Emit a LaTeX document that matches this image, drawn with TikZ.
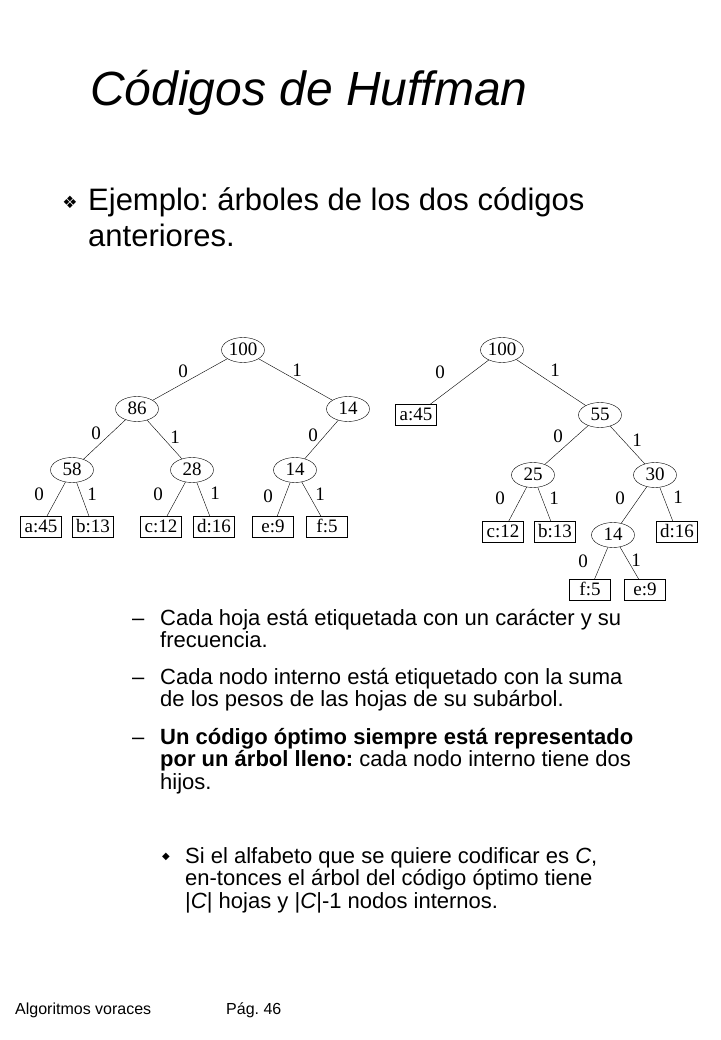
\documentclass[tikz,border=0pt]{standalone}
\usepackage{fontspec}
\setmainfont{Liberation Sans}
\newfontfamily\treefont{Liberation Serif}
\newfontfamily\symfont{DejaVu Sans}
\usetikzlibrary{shapes.geometric}
\newcommand{\mlines}[1]{\begin{tabular}[t]{@{}l@{}}#1\end{tabular}}
\tikzset{
 tf/.style={font=\treefont\fontsize{19}{19}\selectfont},
 inode/.style={ellipse,draw,inner sep=0pt,minimum width=43pt,minimum height=25pt,tf,text height=12pt,text depth=1pt},
 leaf/.style={rectangle,draw,inner sep=0pt,minimum width=41pt,minimum height=21pt,tf,text height=12pt,text depth=1pt},
 elab/.style={tf,inner sep=0pt},
 body/.style={anchor=base west,inner sep=0pt,font=\fontsize{22}{22}\selectfont},
}
\begin{document}
\frenchspacing
\begin{tikzpicture}[x=1pt,y=-1pt]
\useasboundingbox (0,0) rectangle (720,1040);
\node[anchor=base west,inner sep=0pt,font=\itshape\fontsize{48}{48}\selectfont] (title) at (90,106) {Códigos de Huffman};
\node[inner sep=0pt,font=\symfont\fontsize{17}{17}\selectfont] (b1) at (70,202) {❖};
\node[anchor=base west,inner sep=0pt,font=\fontsize{31}{36}\selectfont] (t1) at (88,211) {\mlines{Ejemplo: árboles de los dos códigos\\anteriores.}};
% left tree
\node[inode] (L100) at (243,350) {100};
\node[inode] (L86) at (137,409) {86};
\node[inode] (L14a) at (348,409) {14};
\node[inode] (L58) at (72,470) {58};
\node[inode] (L28) at (192,470) {28};
\node[inode] (L14b) at (295,470) {14};
\node[leaf] (La) at (41,527) {a:45};
\node[leaf] (Lb) at (93,527) {b:13};
\node[leaf] (Lc) at (161,527) {c:12};
\node[leaf] (Ld) at (214,527) {d:16};
\node[leaf] (Le) at (273,527) {e:9};
\node[leaf] (Lf) at (327,527) {f:5};
\draw (L100)--(L86); \draw (L100)--(L14a); \draw (L86)--(L58); \draw (L86)--(L28);
\draw (L14a)--(L14b); \draw (L58)--(La); \draw (L58)--(Lb); \draw (L28)--(Lc);
\draw (L28)--(Ld); \draw (L14b)--(Le); \draw (L14b)--(Lf);
\node[elab] (l1) at (183,371) {0}; \node[elab] (l2) at (297,370) {1};
\node[elab] (l3) at (96,433) {0}; \node[elab] (l4) at (175,437) {1};
\node[elab] (l5) at (313,435) {0};
\node[elab] (l6) at (39,494) {0}; \node[elab] (l7) at (92,494) {1};
\node[elab] (l8) at (158,494) {0}; \node[elab] (l9) at (215,493) {1};
\node[elab] (l10) at (268,496) {0}; \node[elab] (l11) at (320,494) {1};
% right tree
\node[inode] (R100) at (502,350) {100};
\node[leaf] (Ra) at (416,415) {a:45};
\node[inode] (R55) at (600,415) {55};
\node[inode] (R25) at (533,475) {25};
\node[inode] (R30) at (655,475) {30};
\node[leaf] (Rc) at (503,532) {c:12};
\node[leaf] (Rb) at (555,532) {b:13};
\node[inode] (R14) at (613,535) {14};
\node[leaf] (Rd) at (677,532) {d:16};
\node[leaf] (Rf) at (590,590) {f:5};
\node[leaf] (Re) at (645,590) {e:9};
\draw (R100)--(Ra); \draw (R100)--(R55); \draw (R55)--(R25); \draw (R55)--(R30);
\draw (R25)--(Rc); \draw (R25)--(Rb); \draw (R30)--(R14); \draw (R30)--(Rd);
\draw (R14)--(Rf); \draw (R14)--(Re);
\node[elab] (r1) at (440,372) {0}; \node[elab] (r2) at (555,370) {1};
\node[elab] (r3) at (558,436) {0}; \node[elab] (r4) at (637,440) {1};
\node[elab] (r5) at (500,498) {0}; \node[elab] (r6) at (554,498) {1};
\node[elab] (r7) at (620,498) {0}; \node[elab] (r8) at (678,497) {1};
\node[elab] (r9) at (583,561) {0}; \node[elab] (r10) at (636,560) {1};
% body
\node[body] (d1) at (132,625) {–};
\node[body] (x1) at (160,625) {\mlines{Cada hoja está etiquetada con un carácter y su\\frecuencia.}};
\node[body] (d2) at (132,684) {–};
\node[body] (x2) at (160,684) {\mlines{Cada nodo interno está etiquetado con la suma\\de los pesos de las hojas de su subárbol.}};
\node[body] (d3) at (132,744) {–};
\node[body] (x3) at (160,744) {\mlines{\textbf{Un código óptimo siempre está representado}\\\textbf{por un árbol lleno:} cada nodo interno tiene dos\\hijos.}};
\node[inner sep=0pt,font=\symfont\fontsize{10}{10}\selectfont] (b2) at (166,857) {◆};
\node[body] (x4) at (185,863) {\mlines{Si el alfabeto que se quiere codificar es \textit{C},\\en-tonces el árbol del código óptimo tiene\\|\textit{C}| hojas y |\textit{C}|-1 nodos internos.}};
\node[anchor=base west,inner sep=0pt,font=\fontsize{16}{16}\selectfont] (f1) at (15,1014) {Algoritmos voraces};
\node[anchor=base west,inner sep=0pt,font=\fontsize{16}{16}\selectfont] (f2) at (226,1014) {Pág. 46};
\end{tikzpicture}
\end{document}
